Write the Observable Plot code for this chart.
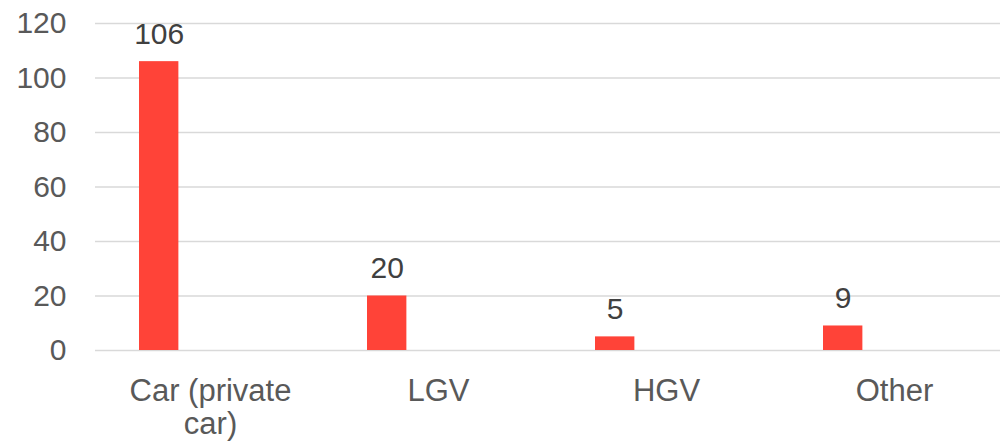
<!DOCTYPE html>
<html><head><meta charset="utf-8">
<script src="https://cdn.jsdelivr.net/npm/d3@7"></script>
<script src="https://cdn.jsdelivr.net/npm/@observablehq/plot@0.6"></script>
<style>body{margin:0;background:#fff;overflow:hidden}</style>
</head><body><div id="chart"></div>
<script>
const categories = ["Car (private car)", "LGV", "HGV", "Other"];
const values = [106, 20, 5, 9];
const yTicks = [0, 20, 40, 60, 80, 100, 120];

const data = categories.map((c, i) => ({category: c, value: values[i]}));
const bandW = (1009.5 - 95) / categories.length;

const chart = Plot.plot({
  width: 1000, height: 444,
  marginLeft: 95, marginRight: 0, marginTop: 23, marginBottom: 94,
  style: {fontFamily: "'Liberation Sans', Arial, sans-serif", background: "#fff", overflow: "hidden"},
  x: {domain: categories, range: [95, 1009.5], padding: 0, label: null},
  y: {domain: [0, 120], ticks: yTicks, label: null},
  marks: [
    Plot.gridY(yTicks, {stroke: "#d9d9d9", strokeOpacity: 1, strokeWidth: 1.5}),
    Plot.barY(data, {x: "category", y: "value", fill: "#ff4338", insetLeft: 43, insetRight: bandW - 43 - 40}),
    Plot.text(data, {x: "category", y: "value", text: d => String(d.value), dx: -(bandW / 2 - 63), dy: -18, lineAnchor: "bottom", fontSize: 30, fill: "#404040"}),
    Plot.axisY(yTicks, {tickSize: 0, tickPadding: 29, fontSize: 30, color: "#595959", label: null}),
    Plot.axisX({tickSize: 0, tickPadding: 27, fontSize: 31, lineWidth: 6, lineHeight: 1.07, color: "#595959", label: null})
  ]
});
document.getElementById("chart").appendChild(chart);
</script>
</body></html>
